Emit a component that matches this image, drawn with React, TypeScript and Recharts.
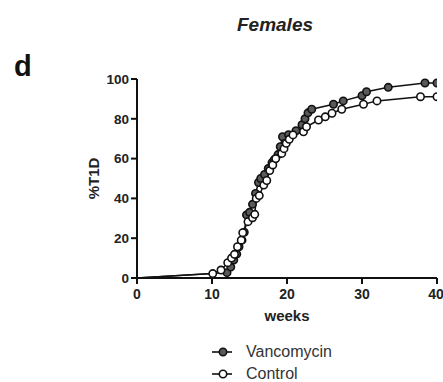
import React from 'react';
import { LineChart, Line, XAxis, YAxis, Legend } from 'recharts';

const vancWeeks = [0, 12.0, 12.5, 12.9, 13.3, 13.6, 14.0, 14.3, 14.6, 15.0, 15.4, 15.8, 16.2, 16.5, 17.0, 17.5, 18.0, 18.3, 18.8, 19.1, 19.4, 20.2, 21.2, 22.0, 22.4, 22.8, 23.3, 26.2, 27.5, 30.0, 30.6, 33.5, 38.4, 40];
const vancPct = [0, 2.7, 5.5, 9, 12, 15.7, 19, 23, 31.7, 33, 37, 42.5, 48, 50, 52, 55, 58, 59.5, 62, 66, 71, 72, 74, 77, 80, 83, 84.8, 87.3, 89, 91.6, 93.6, 95.8, 98, 98];

const ctrlWeeks = [0, 10.1, 11.2, 12.1, 12.6, 13.0, 13.4, 13.9, 14.1, 14.8, 15.4, 15.7, 15.9, 16.3, 16.9, 17.3, 17.7, 18.1, 18.5, 19.3, 19.6, 19.9, 20.3, 20.8, 22.2, 22.6, 24.2, 25.1, 26.0, 27.3, 30.2, 32.0, 37.8, 40];
const ctrlPct = [0, 2.2, 4, 7.7, 10, 11.9, 15.7, 19, 22.8, 28.3, 30.3, 32, 40, 41.4, 46.7, 49, 54, 56.8, 60, 62.6, 65, 67.7, 69.7, 71.9, 73.5, 76, 79.4, 81, 82.8, 84.8, 87.3, 89, 91.1, 91.1];

const xTicks = [0, 10, 20, 30, 40];
const yTicks = [0, 20, 40, 60, 80, 100];

const seriesNames = ['Vancomycin', 'Control'];
const seriesFills = ['#5a5a5a', '#ffffff'];

const vancData = vancWeeks.map((w, i) => ({ week: w, pct: vancPct[i] }));
const ctrlData = ctrlWeeks.map((w, i) => ({ week: w, pct: ctrlPct[i] }));

const FONT = 'Arial, "Liberation Sans", sans-serif';

const makeDot = (fill: string) => (props: any) => {
  const { cx, cy, index, payload } = props;
  if (payload && payload.week === 0) return <g key={`d-${index}`} />;
  return (
    <circle key={`d-${index}`} cx={cx} cy={cy} r={3.7} fill={fill} stroke="#111" strokeWidth={1.6} />
  );
};

const renderLegend = () => (
  <div style={{ fontFamily: FONT, fontSize: 16, color: '#333' }}>
    {seriesNames.map((n, i) => (
      <div key={n} style={{ display: 'flex', alignItems: 'center', height: 22 }}>
        <svg width={22} height={12} style={{ marginRight: 13 }}>
          <line x1={1} y1={6} x2={21} y2={6} stroke="#111" strokeWidth={1.6} />
          <circle cx={12} cy={6} r={3.7} fill={seriesFills[i]} stroke="#111" strokeWidth={1.6} />
        </svg>
        <span>{n}</span>
      </div>
    ))}
  </div>
);

const yLabel = (p: any) => {
  const vb = p.viewBox || { x: 0, y: 79, width: 137, height: 199 };
  const x = vb.x + vb.width - 44;
  const y = vb.y + vb.height / 2;
  return (
    <text
      x={x}
      y={y}
      transform={`rotate(-90, ${x}, ${y})`}
      textAnchor="middle"
      dominantBaseline="central"
      fontFamily={FONT}
      fontWeight="bold"
      fontSize={15}
      fill="#222"
    >
      %T1D
    </text>
  );
};

export default function App() {
  return (
    <div style={{ position: 'absolute', left: 0, top: 0, width: 443, height: 382, background: '#fff' }}>
      <style>{`body{margin:0;background:#fff;}`}</style>
      <div
        style={{
          position: 'absolute',
          left: 0,
          width: 550,
          top: 13,
          textAlign: 'center',
          fontFamily: FONT,
          fontWeight: 'bold',
          fontStyle: 'italic',
          fontSize: 19,
          color: '#222',
          lineHeight: '24px',
        }}
      >
        Females
      </div>
      <div
        style={{
          position: 'absolute',
          left: 14,
          top: 50,
          fontFamily: FONT,
          fontWeight: 'bold',
          fontSize: 29,
          color: '#111',
          lineHeight: '33px',
        }}
      >
        d
      </div>
      <div style={{ position: 'absolute', left: 0, top: 0 }}>
        <LineChart width={443} height={382} margin={{ top: 79, right: 6, bottom: 68, left: 0 }}>
          <XAxis
            type="number"
            dataKey="week"
            domain={[0, 40]}
            ticks={xTicks}
            allowDataOverflow
            height={36}
            axisLine={{ stroke: '#111', strokeWidth: 2 }}
            tickLine={{ stroke: '#111', strokeWidth: 2 }}
            tickSize={6}
            tickMargin={5}
            tick={{ fill: '#222', fontSize: 14, fontWeight: 'bold', fontFamily: FONT }}
            label={{ value: 'weeks', position: 'bottom', offset: -4, fill: '#222', fontSize: 15, fontWeight: 'bold', fontFamily: FONT }}
          />
          <YAxis
            type="number"
            dataKey="pct"
            domain={[0, 100]}
            ticks={yTicks}
            width={137}
            axisLine={{ stroke: '#111', strokeWidth: 2 }}
            tickLine={{ stroke: '#111', strokeWidth: 2 }}
            tickSize={6}
            tickMargin={2}
            tick={{ fill: '#222', fontSize: 13.5, fontWeight: 'bold', fontFamily: FONT }}
            label={{ value: '%T1D', content: yLabel }}
          />
          <Legend
            layout="vertical"
            verticalAlign="middle"
            align="center"
            content={renderLegend}
            wrapperStyle={{ top: 341, left: 211, width: 'auto' }}
          />
          <Line
            data={vancData}
            dataKey="pct"
            name={seriesNames[0]}
            stroke="#111"
            strokeWidth={1.5}
            dot={makeDot(seriesFills[0])}
            activeDot={false}
            isAnimationActive={false}
          />
          <Line
            data={ctrlData}
            dataKey="pct"
            name={seriesNames[1]}
            stroke="#111"
            strokeWidth={1.5}
            dot={makeDot(seriesFills[1])}
            activeDot={false}
            isAnimationActive={false}
          />
        </LineChart>
      </div>
    </div>
  );
}
